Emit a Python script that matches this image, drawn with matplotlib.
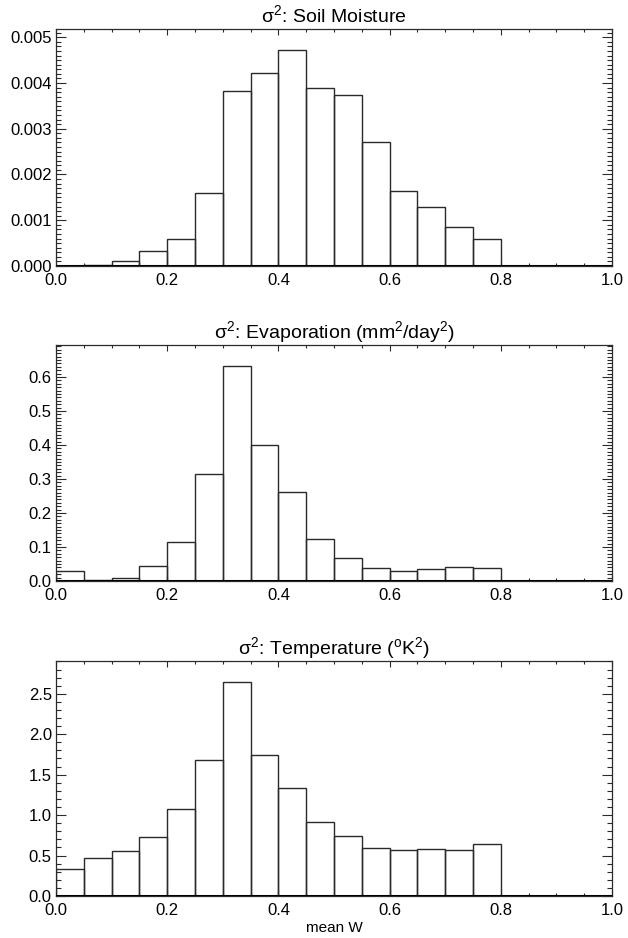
import numpy as np
import matplotlib.pyplot as plt
import matplotlib.transforms as mtransforms
from matplotlib.ticker import MultipleLocator

plt.rcParams['font.family'] = ['Liberation Sans', 'DejaVu Sans']
plt.rcParams['mathtext.fontset'] = 'custom'
plt.rcParams['mathtext.rm'] = 'Liberation Sans'
plt.rcParams['mathtext.it'] = 'Liberation Sans'

# bins of mean W (left edges, width 0.05)
bin_left = [0.00, 0.05, 0.10, 0.15, 0.20, 0.25, 0.30, 0.35, 0.40, 0.45,
            0.50, 0.55, 0.60, 0.65, 0.70, 0.75, 0.80, 0.85, 0.90, 0.95]
bin_width = 0.05

soil_var = [0.0, 0.00003, 0.00012, 0.00032, 0.00058, 0.0016, 0.00383, 0.00422,
            0.00472, 0.0039, 0.00374, 0.00272, 0.00163, 0.00128, 0.00086, 0.00058,
            0.0, 0.0, 0.0, 0.0]
evap_var = [0.028, 0.004, 0.009, 0.044, 0.116, 0.316, 0.632, 0.401, 0.263, 0.123,
            0.069, 0.039, 0.030, 0.036, 0.042, 0.039, 0.0, 0.0, 0.0, 0.0]
temp_var = [0.33, 0.465, 0.55, 0.73, 1.08, 1.68, 2.65, 1.74, 1.34, 0.92,
            0.745, 0.59, 0.564, 0.576, 0.564, 0.64, 0.0, 0.0, 0.0, 0.0]

titles = [r'$\sigma^2$: Soil Moisture',
          r'$\sigma^2$: Evaporation (mm$^2$/day$^2$)',
          r'$\sigma^2$: Temperature ($^{\rm o}$K$^2$)']
series = [soil_var, evap_var, temp_var]
ytops = [0.00518, 0.694, 2.905]
ymajor = [0.001, 0.1, 0.5]
yminor = [0.0001, 0.01, 0.1]
yfmt = ['%.3f', '%.1f', '%.1f']

fig = plt.figure(figsize=(6.28, 9.38), dpi=100)
bottoms = [0.7164, 0.3806, 0.0448]
heights = [0.2527, 0.2516, 0.2505]

edge = '#2a2a2a'
for i in range(3):
    ax = fig.add_axes([0.0892, bottoms[i], 0.8854, heights[i]])
    ax.bar(bin_left, series[i], width=bin_width, align='edge', fill=False,
           edgecolor=edge, linewidth=1.0)
    ax.axhline(0, color='black', linewidth=2.2, zorder=5)
    ax.set_xlim(0, 1.0)
    ax.set_ylim(0, ytops[i])
    ax.set_title(titles[i], fontsize=14, pad=5)
    ax.xaxis.set_major_locator(MultipleLocator(0.2))
    ax.xaxis.set_minor_locator(MultipleLocator(0.05))
    ax.yaxis.set_major_locator(MultipleLocator(ymajor[i]))
    ax.yaxis.set_minor_locator(MultipleLocator(yminor[i]))
    ax.yaxis.set_major_formatter(plt.FormatStrFormatter(yfmt[i]))
    ax.xaxis.set_major_formatter(plt.FormatStrFormatter('%.1f'))
    ax.tick_params(axis='both', which='both', direction='in', top=True, right=True,
                   labelsize=12, color=edge, width=0.8)
    ax.tick_params(axis='x', which='major', length=4, pad=5)
    ax.tick_params(axis='x', which='minor', length=2.5)
    ax.tick_params(axis='y', which='major', length=7, pad=3)
    ax.tick_params(axis='y', which='minor', length=3.5)
    for s in ax.spines.values():
        s.set_color(edge)
        s.set_linewidth(0.9)
    # lift the bottom y label a little, as in the original
    t0 = ax.yaxis.get_major_ticks()[0].label1
    t0.set_transform(t0.get_transform() +
                     mtransforms.ScaledTranslation(0, 4 / 72, fig.dpi_scale_trans))
    if i == 2:
        ax.set_xlabel('mean W', fontsize=11, labelpad=2)

fig.savefig('out.png', dpi=100)
